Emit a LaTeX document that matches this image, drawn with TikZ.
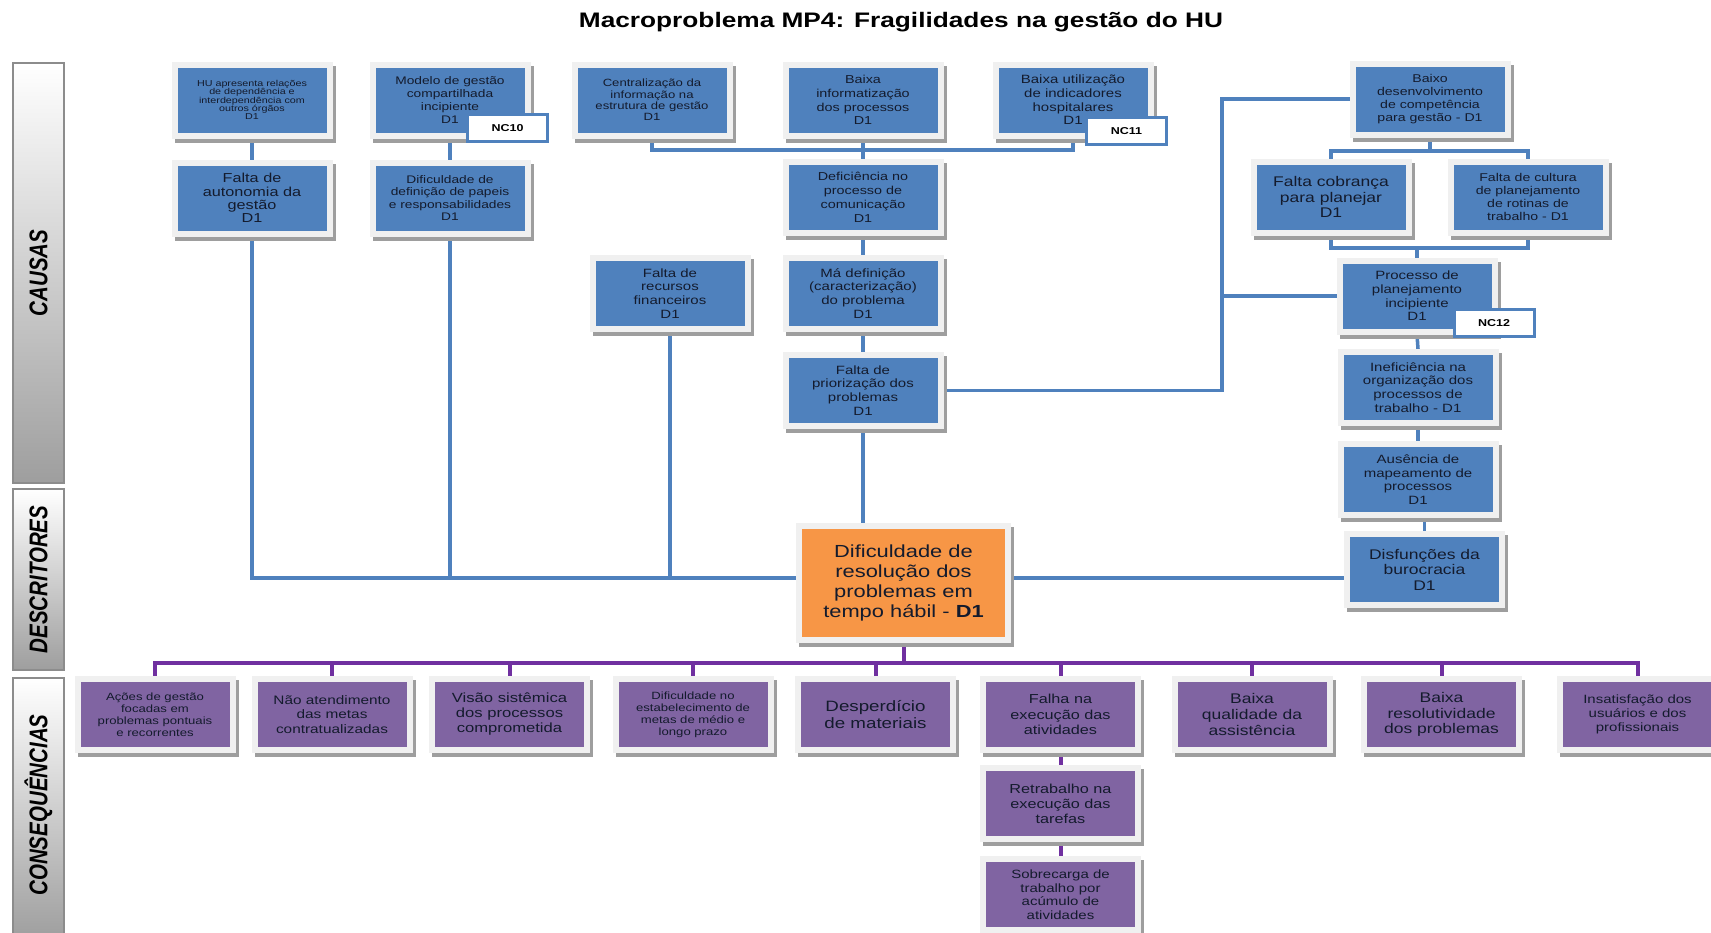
\documentclass[tikz,border=0pt]{standalone}
\usepackage{fontspec}
\setmainfont{Liberation Sans}[FakeStretch=1.25]
\newfontfamily\bandfont{Liberation Sans}
\usepackage{graphicx}
\usetikzlibrary{shadows}

\definecolor{hublue}{HTML}{4F81BD}
\definecolor{hupurple}{HTML}{8064A2}
\definecolor{huorange}{HTML}{F79646}
\definecolor{hupline}{HTML}{7030A0}
\definecolor{hutext}{HTML}{141B2D}

\pgfdeclarelayer{links}
\pgfsetlayers{links,main}

\tikzset{
  fs/.style 2 args={font=\fontsize{#1}{#2}\selectfont},
  card/.style={rectangle, draw=black!6, line width=6pt,
    minimum width=155pt, minimum height=71pt, inner sep=0pt,
    align=center, text=hutext,
    drop shadow={shadow xshift=3pt, shadow yshift=-4pt,
      fill=black!38, draw=black!38, opacity=1}},
  causecard/.style={card, fill=hublue},
  effectcard/.style={card, fill=hupurple},
  nctag/.style={rectangle, fill=white, draw=hublue, line width=3pt,
    minimum width=80pt, minimum height=27pt, inner sep=0pt,
    font=\bfseries\fontsize{10}{12}\selectfont, text=black},
  bline/.style={draw=hublue, line width=3.5pt},
  pline/.style={draw=hupline, line width=4pt},
  band/.style={draw=black!45, line width=1.2pt, top color=white, bottom color=black!38},
  bandlabel/.style={rotate=90, text=black,
    font=\bandfont\bfseries\itshape\fontsize{20.5}{24}\selectfont},
}

\begin{document}
\begin{tikzpicture}[x=1pt, y=-1pt]
\useasboundingbox (0,0) rectangle (1711,932);

% title
\node[font=\bfseries\fontsize{21}{24}\selectfont] (title) at (901,22)
  {Macroproblema MP4: Fragilidades na gestão do HU};

% section bands on the left
\path[band] (13,63) rectangle (64,483);
\path[band] (13,489) rectangle (64,670);
\path[band] (13,678) rectangle (64,940);
\node[bandlabel] (lblcausas) at (38.5,273) {\scalebox{1}[1.25]{CAUSAS}};
\node[bandlabel] (lbldescr) at (38.5,579.5) {\scalebox{1}[1.25]{DESCRITORES}};
\node[bandlabel] (lblconseq) at (38.5,805) {\scalebox{1}[1.25]{CONSEQUÊNCIAS}};

% causes
\node[causecard, fs={8.6}{8.4}] (hu) at (252,100)
  {HU apresenta relações\\de dependência e\\interdependência com\\outros órgãos\\D1};
\node[causecard, fs={11}{13}] (modelo) at (450,100)
  {Modelo de gestão\\compartilhada\\incipiente\\D1};
\node[causecard, fs={10.5}{11.3}] (central) at (652,100)
  {Centralização da\\informação na\\estrutura de gestão\\D1};
\node[causecard, fs={11.5}{13.7}] (baixainfo) at (863,100)
  {Baixa\\informatização\\dos processos\\D1};
\node[causecard, fs={12}{13.7}] (baixautil) at (1073,100)
  {Baixa utilização\\de indicadores\\hospitalares\\D1};
\node[causecard, fs={11.3}{12.9}] (baixodes) at (1430,99)
  {Baixo\\desenvolvimento\\de competência\\para gestão - D1};

\node[causecard, fs={13}{13.4}] (autonomia) at (252,198)
  {Falta de\\autonomia da\\gestão\\D1};
\node[causecard, fs={11}{12.3}] (difdef) at (450,198)
  {Dificuldade de\\definição de papeis\\e responsabilidades\\D1};
\node[causecard, fs={11.5}{14}] (deficiencia) at (863,197)
  {Deficiência no\\processo de\\comunicação\\D1};
\node[causecard, fs={14}{15.5}] (cobranca) at (1331,197)
  {Falta cobrança\\para planejar\\D1};
\node[causecard, fs={11.3}{12.9}] (cultura) at (1528,197)
  {Falta de cultura\\de planejamento\\de rotinas de\\trabalho - D1};

\node[causecard, fs={12}{13.9}] (recursos) at (670,293.5)
  {Falta de\\recursos\\financeiros\\D1};
\node[causecard, fs={12}{13.9}] (madef) at (863,293.5)
  {Má definição\\(caracterização)\\do problema\\D1};
\node[causecard, fs={12}{13.7}] (processo) at (1417,296)
  {Processo de\\planejamento\\incipiente\\D1};
\node[causecard, fs={12}{13.9}] (priorizacao) at (863,390.5)
  {Falta de\\priorização dos\\problemas\\D1};
\node[causecard, fs={12}{13.7}] (ineficiencia) at (1418,387.5)
  {Ineficiência na\\organização dos\\processos de\\trabalho - D1};
\node[causecard, fs={12}{13.7}] (ausencia) at (1418,479.5)
  {Ausência de\\mapeamento de\\processos\\D1};
\node[causecard, fs={14}{15.5}] (disfuncoes) at (1424.5,569.5)
  {Disfunções da\\burocracia\\D1};

% non-conformity tags
\node[nctag] (nc10) at (507.5,128) {NC10};
\node[nctag] (nc11) at (1126.5,131) {NC11};
\node[nctag] (nc12) at (1494,323) {NC12};

% central problem
\node[card, fill=huorange, minimum width=209pt, minimum height=114pt,
  fs={17.5}{20}] (orange) at (903.5,583)
  {Dificuldade de\\resolução dos\\problemas em\\tempo hábil - \textbf{D1}};

% consequences
\node[effectcard, fs={10.5}{12}] (acoes) at (155,714.5)
  {Ações de gestão\\focadas em\\problemas pontuais\\e recorrentes};
\node[effectcard, fs={12.3}{14.2}] (naoatend) at (332,714.5)
  {Não atendimento\\das metas\\contratualizadas};
\node[effectcard, fs={13.3}{15}] (visao) at (509.5,714.5)
  {Visão sistêmica\\dos processos\\comprometida};
\node[effectcard, fs={10.5}{12}] (difmetas) at (693,714.5)
  {Dificuldade no\\estabelecimento de\\metas de médio e\\longo prazo};
\node[effectcard, fs={15}{17.5}] (desperdicio) at (875.5,714.5)
  {Desperdício\\de materiais};
\node[effectcard, fs={13}{15.3}] (falha) at (1060.5,714.5)
  {Falha na\\execução das\\atividades};
\node[effectcard, fs={14}{15.7}] (baixaqual) at (1252,714.5)
  {Baixa\\qualidade da\\assistência};
\node[effectcard, fs={14}{15.7}] (baixaresol) at (1441.5,714.5)
  {Baixa\\resolutividade\\dos problemas};
\node[effectcard, fs={12}{13.9}] (insatisf) at (1637.5,714.5)
  {Insatisfação dos\\usuários e dos\\profissionais};
\node[effectcard, fs={13}{15}] (retrabalho) at (1060.5,803.5)
  {Retrabalho na\\execução das\\tarefas};
\node[effectcard, fs={12}{13.6}] (sobrecarga) at (1060.5,894.5)
  {Sobrecarga de\\trabalho por\\acúmulo de\\atividades};

% helper levels for the connector bars
\coordinate (barY) at (0,578);
\coordinate (topY) at (0,150);
\coordinate (jx) at (1222,0);
\coordinate (bdY) at (0,151);
\coordinate (pcY) at (0,248);
\coordinate (pY) at (0,663);

\begin{pgfonlayer}{links}
  % white page behind everything
  \fill[white] (0,0) rectangle (1711,932);
  % left branches into the central problem
  \draw[bline] (hu.south) -- (autonomia.north);
  \draw[bline] (modelo.south) -- (difdef.north);
  \draw[bline] (autonomia.south) |- (orange.west |- barY);
  \draw[bline] (difdef.south) -- (difdef.south |- barY);
  \draw[bline] (recursos.south) -- (recursos.south |- barY);
  % communication chain
  \draw[bline] (central.south) |- (baixautil.south |- topY) -- (baixautil.south);
  \draw[bline] (baixainfo.south) -- (deficiencia.north);
  \draw[bline] (deficiencia.south) -- (madef.north);
  \draw[bline] (madef.south) -- (priorizacao.north);
  \draw[bline] (priorizacao.south) -- (priorizacao.south |- orange.north);
  % planning chain
  \draw[bline] (priorizacao.east) -- (priorizacao.east -| jx) |- (baixodes.west);
  \draw[bline] (processo.west) -- (processo.west -| jx);
  \draw[bline] (baixodes.south) -- (baixodes.south |- bdY);
  \draw[bline] (cobranca.north) |- (cultura.north |- bdY) -- (cultura.north);
  \draw[bline] (cobranca.south) |- (cultura.south |- pcY) -- (cultura.south);
  \draw[bline] (processo.north) -- (processo.north |- pcY);
  \draw[bline] (processo.south) -- (ineficiencia.north);
  \draw[bline] (ineficiencia.south) -- (ausencia.north);
  \draw[bline] (disfuncoes.north) -- (disfuncoes.north |- ausencia.south);
  \draw[bline] (disfuncoes.west |- barY) -- (orange.east |- barY);
  % consequences
  \draw[pline] (orange.south) -- (orange.south |- pY);
  \draw[pline] (acoes.north) |- (insatisf.north |- pY) -- (insatisf.north);
  \foreach \n in {naoatend,visao,difmetas,desperdicio,falha,baixaqual,baixaresol}
    \draw[pline] (\n.north |- pY) -- (\n.north);
  \draw[pline] (falha.south) -- (retrabalho.north);
  \draw[pline] (retrabalho.south) -- (sobrecarga.north);
\end{pgfonlayer}
\end{tikzpicture}
\end{document}
